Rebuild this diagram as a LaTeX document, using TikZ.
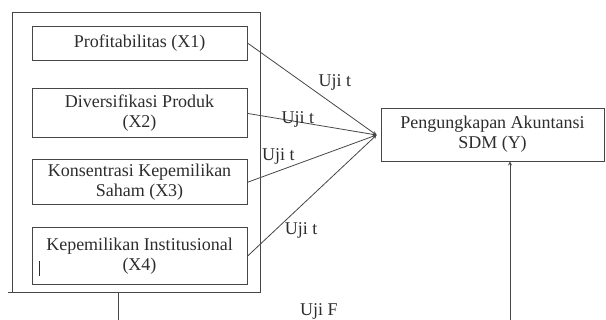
\documentclass[tikz,border=0pt]{standalone}
\usepackage{fontspec}
\setmainfont{Liberation Serif}
\usetikzlibrary{shapes,arrows,positioning,calc}
\definecolor{inkgray}{RGB}{45,45,45}
\definecolor{linegray}{RGB}{70,70,70}

\begin{document}
\begin{tikzpicture}[
    x=1pt, y=-1pt,
    font=\fontsize{18}{20}\selectfont,
    varbox/.style={rectangle, draw=linegray, line width=0.9pt, minimum width=215pt, inner sep=0pt, align=center, text=inkgray},
    groupbox/.style={rectangle, draw=linegray, line width=0.9pt, minimum width=248pt, minimum height=280pt, inner sep=0pt},
    ybox/.style={rectangle, draw=linegray, line width=0.9pt, minimum width=223pt, minimum height=53pt, inner sep=0pt, align=center, text=inkgray},
    edge/.style={->, line width=0.8pt, draw=linegray, >=stealth},
    lbl/.style={text=inkgray, inner sep=1pt}
]
\useasboundingbox (0,0) rectangle (606,320);

% Group of independent variables
\node[groupbox] (grp) at (136,152) {};
\draw[line width=0.9pt, draw=linegray] (grp.south west) -- ++(-4,0);

% Independent variables
\node[varbox, minimum height=34pt] (x1) at (139.5,43) {Profitabilitas (X1)};
\node[varbox, minimum height=49pt, below=28pt of x1] (x2) {Diversifikasi Produk\\(X2)};
\node[varbox, minimum height=45pt, below=21pt of x2] (x3) {Konsentrasi Kepemilikan\\Saham (X3)};
\node[varbox, minimum height=57pt, below=22pt of x3] (x4) {Kepemilikan Institusional\\(X4)};
\draw[line width=1.6pt, draw=inkgray] ($(x4.south west)+(8,-9)$) -- ($(x4.south west)+(8,-24)$);

% Dependent variable
\node[ybox] (y) at (492.5,134.5) {Pengungkapan Akuntansi\\SDM (Y)};
\coordinate (hub) at ($(y.west)+(-4,0.5)$);

% Uji t (partial)
\draw[edge] (x1.east) -- node[lbl, pos=0.6, xshift=10pt, yshift=16pt] {Uji t} (hub);
\draw[edge] (x2.east) -- node[lbl, pos=0.39, yshift=2pt] {Uji t} (hub);
\draw[edge] (x3.east) -- node[lbl, pos=0.24, yshift=14pt] {Uji t} (hub);
\draw[edge] (x4.east) -- node[lbl, pos=0.415, yshift=-25pt] {Uji t} (hub);

% Uji F (simultaneous)
\coordinate (fstart) at ($(grp.south)+(-18,0)$);
\coordinate (fend) at ($(y.south)+(17.5,0)$);
\begin{scope}
\clip (0,0) rectangle (606,320);
\draw[edge] (fstart) -- ++(0,32) coordinate (fc1) -- node[lbl, above=4pt, xshift=5pt] {Uji F} (fc1 -| fend) -- (fend);
\end{scope}

\end{tikzpicture}
\end{document}
